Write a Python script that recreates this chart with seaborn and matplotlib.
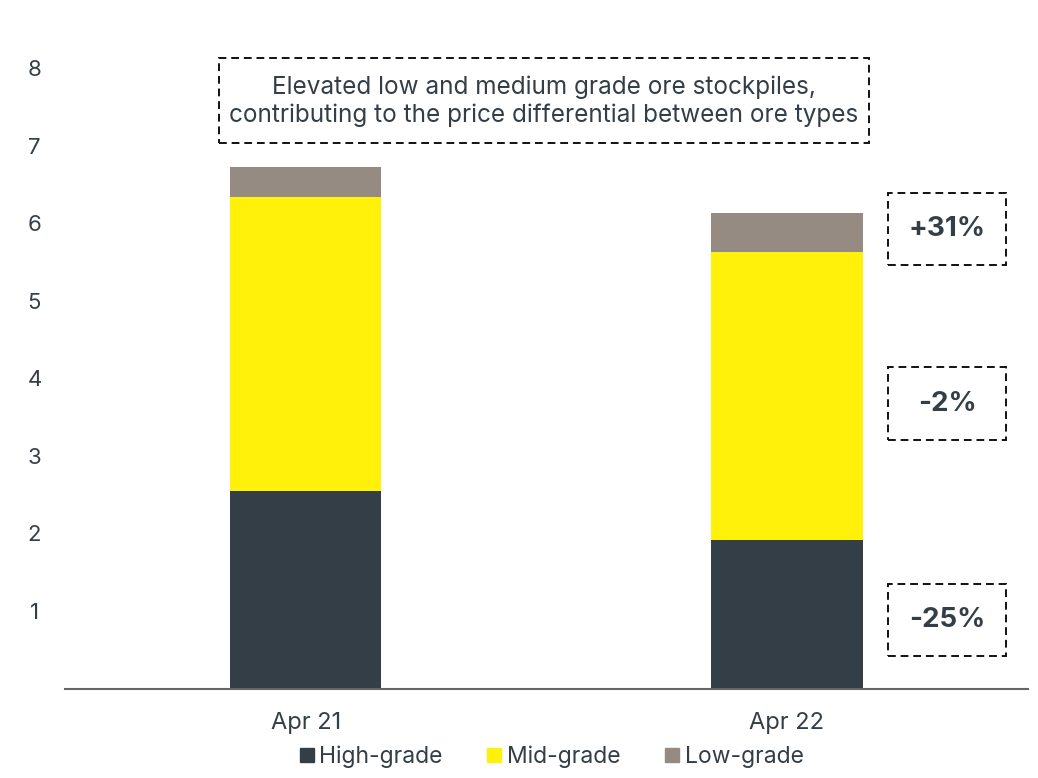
import numpy as np
import pandas as pd
import matplotlib.pyplot as plt
import seaborn as sns
from matplotlib.patches import Rectangle
from matplotlib.lines import Line2D

periods = ['Apr 21', 'Apr 22']
high_grade = [2.55, 1.91]
mid_grade = [3.79, 3.72]
low_grade = [0.38, 0.50]
changes = ['-25%', '-2%', '+31%']
note = 'Elevated low and medium grade ore stockpiles,\ncontributing to the price differential between ore types'

c_high = '#333e46'
c_mid = '#fff10a'
c_low = '#968b82'
txt = '#333e46'

sns.set_theme(style='white')
plt.rcParams['font.family'] = ['Inter', 'DejaVu Sans']

df = pd.DataFrame({'period': periods, 'high': high_grade, 'mid': mid_grade, 'low': low_grade})
df['hm'] = df['high'] + df['mid']
df['total'] = df['hm'] + df['low']

fig = plt.figure(figsize=(10.38, 7.78), dpi=100)
ax = fig.add_axes([0.0626, 0.115, 0.9274, 0.7976])

# stacked bars by overlaying cumulative totals
for col, c in [('total', c_low), ('hm', c_mid), ('high', c_high)]:
    sns.barplot(data=df, x='period', y=col, color=c, width=0.314, saturation=1, linewidth=0, ax=ax)

ax.set_xlim(-0.5, 1.5)
ax.set_ylim(0, 8)
ax.set_yticks(range(1, 9))
ax.set_xlabel('')
ax.set_ylabel('')
for s in ['top', 'right', 'left']:
    ax.spines[s].set_visible(False)
ax.spines['bottom'].set_color('#666666')
ax.spines['bottom'].set_linewidth(1.5)
ax.tick_params(axis='y', length=0, pad=22, labelsize=16, labelcolor=txt)
ax.tick_params(axis='x', length=0, pad=17, labelsize=17, labelcolor=txt)
for lab in ax.get_yticklabels():
    lab.set_horizontalalignment('center')

# dashed boxes
W, H = 1038, 778
def box(x0, y0, x1, y1):
    r = Rectangle((x0 / W, 1 - y1 / H), (x1 - x0) / W, (y1 - y0) / H, transform=fig.transFigure,
                  fill=False, ec='#111111', lw=1.4, ls=(0, (4, 2.5)), clip_on=False)
    fig.add_artist(r)

box(219, 58, 869, 143)
fig.text(544 / W, 1 - 101 / H, note, ha='center', va='center', fontsize=17.5, color=txt, linespacing=1.25)

for lab, (y0, y1) in zip(changes, [(584, 656), (367, 440), (193, 265)]):
    box(888, y0, 1006, y1)
    fig.text(947 / W, 1 - (y0 + y1) / 2 / H, lab, ha='center', va='center', fontsize=20,
             fontweight='bold', color=txt)

handles = [Line2D([], [], marker='s', ls='', markersize=10.5, color=c) for c in [c_high, c_mid, c_low]]
fig.legend(handles, ['High-grade', 'Mid-grade', 'Low-grade'], loc='center', bbox_to_anchor=(0.531, 1 - 757 / H),
           ncol=3, frameon=False, fontsize=16.5, handletextpad=0.2, columnspacing=1.9, labelcolor=txt,
           handlelength=0.7)

fig.savefig('out.png', dpi=100)
